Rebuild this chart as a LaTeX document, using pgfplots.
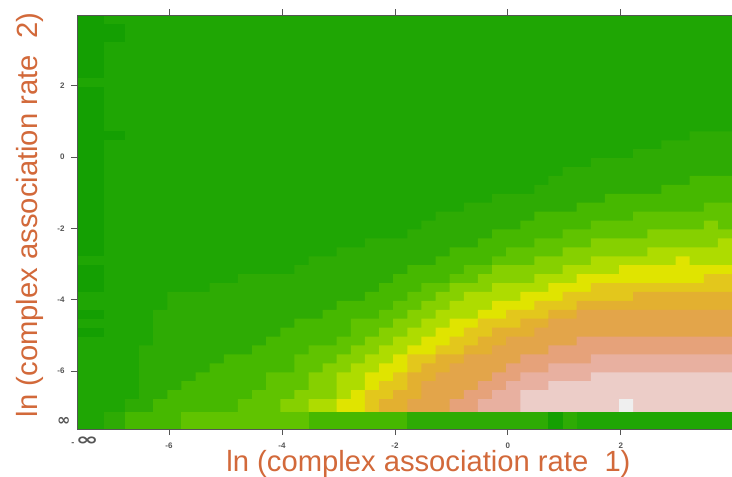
\documentclass[border=0pt]{standalone}
\usepackage{fontspec}
\setmainfont{Liberation Sans}
\newfontfamily\djv{DejaVu Sans}
\usepackage{pgfplots}
\pgfplotsset{compat=1.18}
\definecolor{L0}{HTML}{149F02}
\definecolor{L1}{HTML}{1FA604}
\definecolor{L2}{HTML}{2EAB04}
\definecolor{L3}{HTML}{46B800}
\definecolor{L4}{HTML}{60C300}
\definecolor{L5}{HTML}{86D000}
\definecolor{L6}{HTML}{AEDC00}
\definecolor{L7}{HTML}{E0E400}
\definecolor{L8}{HTML}{E3C71C}
\definecolor{L9}{HTML}{E3B030}
\definecolor{L10}{HTML}{E3A54A}
\definecolor{L11}{HTML}{E6A27A}
\definecolor{L12}{HTML}{E8B0A0}
\definecolor{L13}{HTML}{ECCDC8}
\definecolor{L14}{HTML}{EFEFEF}
\definecolor{Lab}{HTML}{D2693A}
\definecolor{Tk}{HTML}{555555}
% each band: column index j (x=-6.78+0.25j), row index i (y=-6.78+0.25i), constant to the next j
\newcommand\band[2]{\addplot[const plot,fill=#1,draw=none,forget plot] table[row sep=\\,header=false,x expr=-6.78+0.25*\thisrowno{0},y expr=-6.78+0.25*\thisrowno{1}] {#2} --cycle;}
\newcommand\cell[5]{\addplot[fill=#1,draw=none,forget plot] coordinates {(#2,#4)(#3,#4)(#3,#5)(#2,#5)} --cycle;}
\begin{document}
\begin{tikzpicture}
\path[use as bounding box] (0,0) rectangle (732pt,477pt);
\begin{axis}[
  scale only axis,width=655pt,height=414pt,
  at={(77pt,48pt)},anchor=south west,
  xmin=-7.63,xmax=3.97,ymin=-7.62,ymax=3.98,
  axis on top,
  axis line style={Tk,line width=0.8pt},
  tick style={Tk,line width=0.7pt},
  major tick length=6pt,tick align=outside,
  xtick={-6,-4,-2,0,2},ytick={-6,-4,-2,0,2},
  xtick pos=both,ytick pos=both,
  xticklabel pos=bottom,yticklabel pos=left,
  tick label style={font=\fontsize{8}{9}\selectfont\bfseries,text=Tk},
  x tick label style={yshift=-4pt},
  y tick label style={xshift=-3pt},
  /pgf/number format/assume math mode=true,
  xlabel={ln (complex association rate\ \ 1)},
  ylabel={ln (complex association rate\ \ 2)},
  every axis x label/.style={at={(axis description cs:0.5366,-0.0850)},anchor=center,font=\fontsize{29.2}{32}\selectfont,text=Lab},
  every axis y label/.style={at={(axis description cs:-0.0718,0.517)},anchor=center,rotate=90,font=\fontsize{29.2}{32}\selectfont,text=Lab},
  extra x ticks={-7.49},extra x tick labels={{\fontsize{9}{9}\selectfont -\,\djv\fontsize{17}{17}\selectfont\scalebox{1.6}[1]{∞}}},
  extra x tick style={major tick length=0pt,tick style={draw=none}},
  extra y ticks={-7.4},extra y tick labels={{\djv\fontsize{16}{16}\selectfont∞}},
  extra y tick style={major tick length=0pt,tick style={draw=none}},
]
% base level
\cell{L1}{-7.63}{3.97}{-7.62}{3.98}
% left column, darker patches
\cell{L0}{-7.63}{-7.15}{2.22}{3.98}
\cell{L0}{-7.63}{-7.15}{-2.78}{1.97}
\cell{L0}{-7.63}{-7.15}{-3.78}{-3.03}
\cell{L0}{-7.63}{-7.15}{-4.53}{-4.28}
\cell{L0}{-7.63}{-7.15}{-5.03}{-4.78}
\cell{L0}{-7.15}{-6.78}{3.22}{3.72}
\cell{L0}{-7.15}{-6.78}{0.47}{0.72}
% bands
\band{L2}{0 -3\\0 0\\1 6\\2 10\\3 12\\6 13\\8 14\\12 15\\13 16\\15 17\\17 18\\20 19\\21 20\\22 21\\24 22\\26 23\\29 24\\30 25\\31 26\\33 27\\36 28\\38 29\\40 30\\43 30\\43 -3\\}
\band{L3}{2 -3\\2 0\\3 1\\4 2\\5 3\\6 4\\7 5\\9 6\\10 7\\11 8\\12 9\\14 10\\15 11\\17 12\\18 13\\19 14\\20 15\\22 16\\23 17\\25 18\\26 19\\28 20\\29 21\\32 22\\34 23\\38 24\\40 25\\43 25\\43 -3\\}
\band{L4}{8 -3\\8 0\\9 1\\10 3\\12 5\\13 6\\15 7\\16 9\\18 10\\19 11\\20 12\\21 13\\23 14\\24 15\\26 16\\27 17\\29 18\\31 19\\33 20\\36 21\\41 22\\43 22\\43 -3\\}
\band{L5}{11 -3\\11 0\\12 1\\13 3\\14 4\\15 5\\16 6\\17 7\\18 8\\19 9\\20 10\\21 11\\22 12\\23 13\\25 14\\26 15\\29 16\\31 17\\33 18\\37 19\\41 20\\42 19\\43 19\\43 -3\\}
\band{L6}{13 -3\\13 0\\15 3\\16 4\\17 5\\18 6\\19 7\\20 8\\21 9\\22 10\\23 11\\24 12\\26 13\\27 13\\29 14\\31 15\\33 16\\37 17\\42 18\\43 18\\43 -3\\}
\band{L7}{15 -3\\15 0\\16 1\\17 3\\18 4\\19 5\\20 6\\21 7\\22 8\\23 9\\25 10\\26 11\\28 12\\30 13\\32 14\\35 15\\39 16\\40 15\\43 15\\43 -3\\}
\band{L8}{17 -3\\17 1\\18 2\\19 3\\20 5\\22 6\\23 7\\24 8\\25 9\\27 10\\29 11\\31 12\\33 13\\41 14\\43 14\\43 -3\\}
\band{L9}{18 -3\\18 0\\19 1\\20 3\\21 4\\22 5\\24 6\\25 7\\26 8\\28 9\\30 10\\32 11\\36 12\\43 12\\43 -3\\}
\band{L10}{20 -3\\20 0\\21 2\\22 3\\23 4\\24 5\\26 6\\27 7\\29 8\\30 9\\32 10\\43 10\\43 -3\\}
\band{L11}{23 -3\\23 0\\24 1\\25 2\\26 3\\27 4\\28 5\\30 6\\32 7\\43 7\\43 -3\\}
\band{L12}{25 -3\\25 0\\26 1\\27 2\\28 3\\30 4\\33 5\\43 5\\43 -3\\}
\band{L13}{28 -3\\28 1\\30 2\\33 3\\43 3\\43 -3\\}
\band{L14}{35 -3\\35 0\\36 0\\36 -3\\}
% bottom row (-infinity)
\cell{L1}{-7.63}{-7.15}{-7.62}{-7.15}
\cell{L2}{-7.15}{-6.78}{-7.62}{-7.15}
\cell{L3}{-6.78}{-5.78}{-7.62}{-7.15}
\cell{L4}{-5.78}{-3.53}{-7.62}{-7.15}
\cell{L3}{-3.53}{-1.78}{-7.62}{-7.15}
\cell{L2}{-1.78}{0.72}{-7.62}{-7.15}
\cell{L0}{0.72}{0.97}{-7.62}{-7.15}
\cell{L2}{0.97}{1.22}{-7.62}{-7.15}
\cell{L1}{1.22}{3.97}{-7.62}{-7.15}
\end{axis}
\end{tikzpicture}
\end{document}
